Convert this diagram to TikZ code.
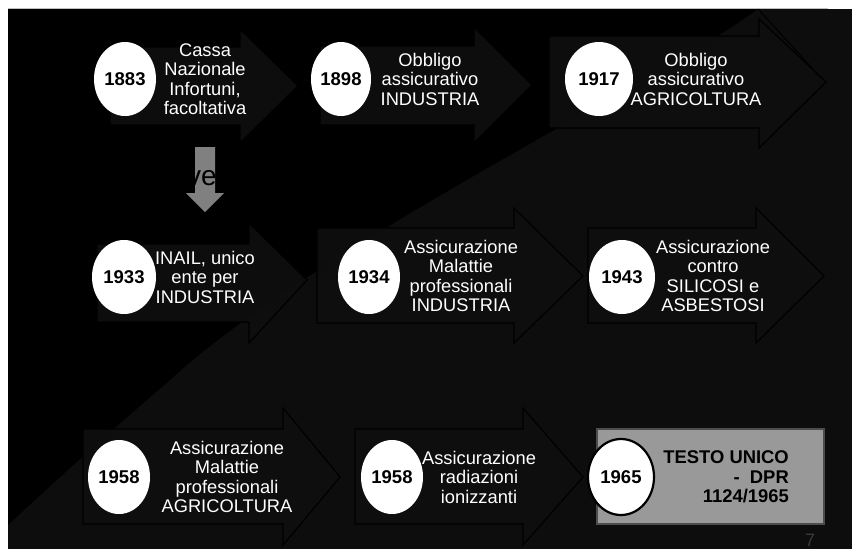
\documentclass[tikz,border=0pt]{standalone}
\usepackage{fontspec}
\setmainfont{Liberation Sans}
\usetikzlibrary{shapes.geometric}
\definecolor{bgdark}{HTML}{0D0D0D}
\definecolor{arrowfill}{HTML}{0F0F0F}
\definecolor{downgray}{HTML}{808080}
\definecolor{boxgray}{HTML}{999999}
\definecolor{boxedge}{HTML}{4D4D4D}
\definecolor{pagenum}{HTML}{3A3A3A}
\newcommand{\BlkArrow}[8]{%
  \draw[blockarrow] (#1,#2) -- (#4,#2) -- (#4,#5) -- (#7,#8) -- (#4,#6) -- (#4,#3) -- (#1,#3) -- cycle;}
\begin{document}
\begin{tikzpicture}[x=1pt,y=-1pt,
  blockarrow/.style={fill=arrowfill, fill opacity=0.9, draw=black, line width=1.2pt},
  yearnode/.style={ellipse, fill=white, inner sep=0pt, text=black,
    font=\bfseries\fontsize{18.5}{19.5}\selectfont},
  desc/.style={text=white, align=center, inner sep=0pt,
    font=\fontsize{18.3}{19.5}\selectfont}]
\useasboundingbox (0,0) rectangle (852,549);
\fill[white] (0,0) rectangle (852,549);
\fill[bgdark] (8,9) rectangle (852,549);
\draw[black!25, line width=0.6pt] (8,8.6) -- (828,8.6);
% big background arrow (black swoosh)
\fill[black] (8,9) -- (758,9) -- (735,25) .. controls (600,110) and (300,260) .. (170,380) .. controls (100,440) and (40,495) .. (8,525) -- cycle;
\draw[black, line width=1pt] (758,9) -- (812,68);
% block arrows
\BlkArrow{110}{47}{125}{240}{29}{143}{298}{86}
\BlkArrow{320}{46}{125}{474}{27}{143}{532}{85}
\BlkArrow{549}{36}{128}{759}{19}{148}{826}{82}
\BlkArrow{97}{244}{322}{249}{223}{343}{307}{280}
\BlkArrow{317}{228}{323}{514}{208}{343}{583}{276}
\BlkArrow{588}{228}{323}{756}{208}{343}{824}{276}
\BlkArrow{83}{429}{524}{283}{408}{545}{340}{477}
\BlkArrow{355}{429}{524}{523}{408}{545}{583}{477}
% down arrow
\fill[downgray] (195,147) -- (215,147) -- (215,193) -- (224,193) -- (205,212) -- (186,193) -- (195,193) -- cycle;
\node[anchor=base west, inner sep=0pt, text=black, font=\fontsize{28}{30}\selectfont] (ve) at (187,185) {ve};
% final box
\node[draw=boxedge, fill=boxgray, line width=1.2pt, minimum width=227pt, minimum height=95pt, inner sep=0pt] (box) at (710.5,476.5) {};
% years
\node[yearnode, minimum width=62pt, minimum height=74pt] (y1883) at (125,79) {1883};
\node[yearnode, minimum width=60pt, minimum height=74pt] (y1898) at (341,79) {1898};
\node[yearnode, minimum width=68pt, minimum height=74pt] (y1917) at (599,79) {1917};
\node[yearnode, minimum width=64pt, minimum height=74pt] (y1933) at (124,277) {1933};
\node[yearnode, minimum width=62pt, minimum height=74pt] (y1934) at (369,277) {1934};
\node[yearnode, minimum width=66pt, minimum height=74pt] (y1943) at (622,277) {1943};
\node[yearnode, minimum width=62pt, minimum height=74pt] (y1958a) at (119,477) {1958};
\node[yearnode, minimum width=62pt, minimum height=74pt] (y1958b) at (392,477) {1958};
\node[yearnode, draw=black, line width=2.2pt, minimum width=66pt, minimum height=76pt] (y1965) at (621,477) {1965};
% descriptions
\node[desc] (t1883) at (205,79) {Cassa\\Nazionale\\Infortuni,\\facoltativa};
\node[desc] (t1898) at (430,79) {Obbligo\\assicurativo\\INDUSTRIA};
\node[desc] (t1917) at (696,79) {Obbligo\\assicurativo\\AGRICOLTURA};
\node[desc] (t1933) at (205,277) {INAIL, unico\\ente per\\INDUSTRIA};
\node[desc] (t1934) at (461,276) {Assicurazione\\Malattie\\professionali\\INDUSTRIA};
\node[desc] (t1943) at (713,276) {Assicurazione\\contro\\SILICOSI e\\ASBESTOSI};
\node[desc] (t1958a) at (227,477) {Assicurazione\\Malattie\\professionali\\AGRICOLTURA};
\node[desc] (t1958b) at (479,477) {Assicurazione\\radiazioni\\ionizzanti};
\node[text=black, align=right, inner sep=0pt, anchor=east, font=\bfseries\fontsize{18.4}{19.5}\selectfont] (t1965) at (789,477) {TESTO UNICO\\-~~DPR\\1124/1965};
% page number
\begin{scope}
\clip (0,0) rectangle (852,549);
\node[anchor=north, inner sep=0pt, text=pagenum, font=\fontsize{18}{20}\selectfont] (pnum) at (810,534) {7};
\end{scope}
\end{tikzpicture}
\end{document}
